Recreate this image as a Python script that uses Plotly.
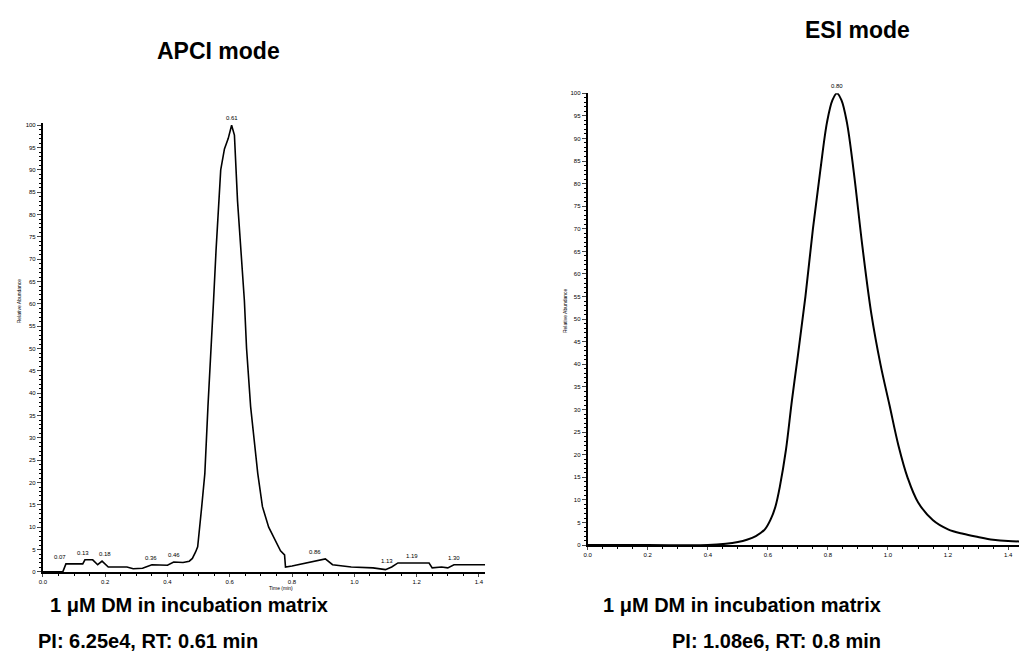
import plotly.graph_objects as go

# page has an 8px body margin; size the figure to fit the 1027x671 window
OFF = 8
W, H = 1027 - OFF, 671 - OFF

# APCI chromatogram (time in min, relative abundance %)
apci_time = [0.0, 0.064, 0.074, 0.128, 0.135, 0.16, 0.176, 0.19, 0.21, 0.27, 0.29, 0.32, 0.35,
             0.40, 0.42, 0.45, 0.47, 0.48, 0.49, 0.497, 0.51, 0.52, 0.53, 0.54, 0.548, 0.556,
             0.564, 0.571, 0.583, 0.595, 0.606, 0.615, 0.625, 0.635, 0.647, 0.654, 0.667, 0.69,
             0.705, 0.725, 0.744, 0.763, 0.776, 0.779, 0.80, 0.855, 0.907, 0.93, 0.99, 1.06,
             1.10, 1.12, 1.14, 1.24, 1.25, 1.28, 1.30, 1.32, 1.42]
apci_abund = [0.0, 0.0, 1.8, 1.8, 2.7, 2.7, 1.6, 2.4, 1.1, 1.1, 0.7, 0.8, 1.6,
              1.5, 2.2, 2.1, 2.4, 3.0, 4.4, 5.6, 14.6, 22.0, 37.0, 52.0, 60.7, 72.0,
              83.0, 90.0, 94.7, 97.0, 100.0, 97.8, 83.0, 72.0, 60.7, 50.0, 37.0, 22.0,
              14.6, 10.0, 7.3, 4.7, 3.8, 1.1, 1.3, 2.2, 2.9, 1.6, 1.1, 0.9,
              0.5, 1.1, 2.0, 2.0, 0.9, 1.1, 0.9, 1.6, 1.6]
apci_labels = ["0.07", "0.13", "0.18", "0.36", "0.46", "0.61", "0.86", "1.13", "1.19", "1.30"]
apci_label_x = [0.054, 0.128, 0.20, 0.346, 0.42, 0.606, 0.875, 1.105, 1.186, 1.32]
apci_label_y = [1.8, 2.7, 2.4, 1.6, 2.2, 100.0, 2.9, 0.8, 2.0, 1.6]

# ESI chromatogram
esi_time = [0.0, 0.2, 0.4, 0.46, 0.50, 0.53, 0.56, 0.59, 0.61, 0.625, 0.64, 0.66, 0.68, 0.70,
            0.725, 0.75, 0.774, 0.797, 0.815, 0.83, 0.845, 0.863, 0.886, 0.915, 0.945, 0.975,
            1.005, 1.035, 1.065, 1.10, 1.15, 1.20, 1.25, 1.30, 1.35, 1.40, 1.46]
esi_abund = [0.0, 0.0, 0.0, 0.3, 0.7, 1.2, 2.0, 3.5, 5.8, 8.5, 13.0, 21.0, 32.0, 42.0,
             55.0, 70.0, 82.6, 93.6, 98.5, 100.0, 98.5, 93.6, 82.6, 66.0, 51.0, 40.0,
             31.0, 22.0, 15.0, 9.5, 5.5, 3.5, 2.5, 1.8, 1.2, 0.9, 0.8]
esi_labels = ["0.80"]
esi_label_x = [0.83]
esi_label_y = [100.0]

y_ticks = list(range(0, 101, 5))
x_ticks = [0.0, 0.2, 0.4, 0.6, 0.8, 1.0, 1.2, 1.4]
x_ticklabels = ["0.0", "0.2", "0.4", "0.6", "0.8", "1.0", "1.2", "1.4"]


def px(x):
    return (x - OFF) / W


def py(y):
    return 1 - (y - OFF) / H


fig = go.Figure()
fig.add_trace(go.Scatter(x=apci_time, y=apci_abund, mode="lines",
                         line=dict(color="black", width=1.6), xaxis="x", yaxis="y",
                         showlegend=False))
fig.add_trace(go.Scatter(x=esi_time, y=esi_abund, mode="lines", line_shape="spline",
                         line=dict(color="black", width=2), xaxis="x2", yaxis="y2",
                         showlegend=False))

tickfont = dict(family="Arial", size=6, color="black")
common_x = dict(tickvals=x_ticks, ticktext=x_ticklabels, ticks="outside", ticklen=3,
                tickwidth=1, showline=True, linecolor="black", linewidth=2,
                showgrid=False, zeroline=False, tickfont=tickfont,
                minor=dict(dtick=0.05, ticks="outside", ticklen=2, tickcolor="black"))
common_y = dict(tickvals=y_ticks, ticks="outside", ticklen=4, tickwidth=1,
                showline=True, linecolor="black", linewidth=2, showgrid=False,
                zeroline=False, tickfont=tickfont,
                minor=dict(dtick=1, ticks="outside", ticklen=2, tickcolor="black"))

fig.update_layout(
    width=W, height=H, margin=dict(l=0, r=0, t=0, b=0),
    plot_bgcolor="white", paper_bgcolor="white",
    xaxis=dict(domain=[px(39), px(483)], range=[0, 1.42], anchor="y", **common_x),
    yaxis=dict(domain=[py(574), py(121)], range=[0, 100.5], anchor="x", **common_y),
    xaxis2=dict(domain=[px(586), 1.0], range=[0, 1.463], anchor="y2", **common_x),
    yaxis2=dict(domain=[py(547), py(91)], range=[0, 100], anchor="x2", **common_y),
)

ann = []
small = dict(family="Arial", size=6, color="black")
for t, xv, yv in zip(apci_labels, apci_label_x, apci_label_y):
    ann.append(dict(x=xv, y=yv, xref="x", yref="y", text=t, showarrow=False,
                    xanchor="center", yanchor="bottom", yshift=2, font=small))
for t, xv, yv in zip(esi_labels, esi_label_x, esi_label_y):
    ann.append(dict(x=xv, y=yv, xref="x2", yref="y2", text=t, showarrow=False,
                    xanchor="center", yanchor="bottom", yshift=2, font=small))


def note(text, x, y, font, xanchor="center", angle=0):
    ann.append(dict(x=px(x), y=py(y), xref="paper", yref="paper", text=text,
                    textangle=angle, showarrow=False, xanchor=xanchor,
                    yanchor="middle", font=font))


tiny = dict(family="Arial", size=5, color="black")
note("Relative Abundance", 15, 300, tiny, angle=-90)
note("Relative Abundance", 563, 310, tiny, angle=-90)
note("Time (min)", 278, 590, tiny)

title_font = dict(family="Liberation Sans, Arial", size=23, color="black")
note("<b>APCI mode</b>", 215, 48, title_font)
note("<b>ESI mode</b>", 857, 27, title_font)

cap_font = dict(family="Liberation Sans, Arial", size=20, color="black")
note("<b>1 μM DM in incubation matrix</b>", 44, 607, cap_font, xanchor="left")
note("<b>PI: 6.25e4, RT: 0.61 min</b>", 32, 644, cap_font, xanchor="left")
note("<b>1 μM DM in incubation matrix</b>", 882, 607, cap_font, xanchor="right")
note("<b>PI: 1.08e6, RT: 0.8 min</b>", 882, 644, cap_font, xanchor="right")

fig.update_layout(annotations=ann)
fig.write_html("out.html")
